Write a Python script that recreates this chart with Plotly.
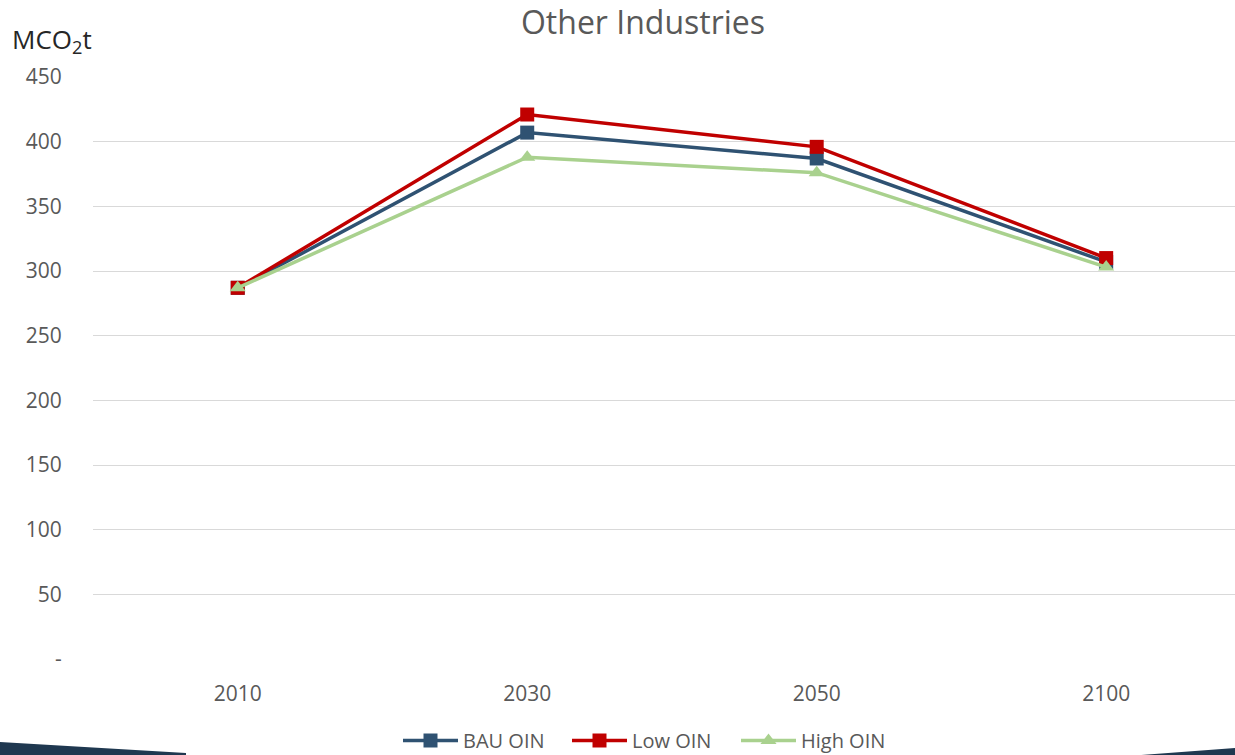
import plotly.graph_objects as go

# Emissions by scenario (MCO2t)
years = ["2010", "2030", "2050", "2100"]
bau_oin = [287, 407, 387, 307]
low_oin = [287, 421, 396, 310]
high_oin = [287, 388, 376, 303]

y_ticks = [0, 50, 100, 150, 200, 250, 300, 350, 400, 450]
y_tick_text = ["-", "50", "100", "150", "200", "250", "300", "350", "400", "450"]

W, H = 1235, 755
ML, MR, MT, MB = 93, 0, 77, 96
PW, PH = W - ML - MR, H - MT - MB

def px_to_paper(px, py):
    return (px - ML) / PW, (H - MB - py) / PH

TEXT = "#595959"
FONT = "Open Sans, Segoe UI, sans-serif"

fig = go.Figure()
series = [
    ("BAU OIN", bau_oin, "#2F5272", "square"),
    ("Low OIN", low_oin, "#C00000", "square"),
    ("High OIN", high_oin, "#A9D18E", "triangle-up"),
]
for name, vals, color, sym in series:
    fig.add_trace(go.Scatter(
        x=years, y=vals, name=name, mode="lines+markers",
        line=dict(color=color, width=3.5),
        marker=dict(symbol=sym, size=14, color=color),
    ))

# decorative navy wedges along the bottom edge
def wedge(points):
    pts = [px_to_paper(x, y) for x, y in points]
    d = "M " + " L ".join(f"{x:.5f},{y:.5f}" for x, y in pts) + " Z"
    return dict(type="path", path=d, xref="paper", yref="paper",
                fillcolor="#1F3850", line=dict(width=0), layer="above")

fig.update_layout(
    width=W, height=H,
    margin=dict(l=ML, r=MR, t=MT, b=MB, autoexpand=False),
    paper_bgcolor="white", plot_bgcolor="white",
    font=dict(family=FONT, color=TEXT, size=20),
    title=dict(text="Other Industries", x=643 / W, xref="container", xanchor="center",
               y=1 - 23 / H, yref="container", yanchor="middle",
               font=dict(size=32, color=TEXT, family=FONT)),
    showlegend=True,
    legend=dict(orientation="h", x=px_to_paper(398, 0)[0], xanchor="left",
                y=px_to_paper(0, 760)[1], yanchor="bottom",
                font=dict(size=20, color=TEXT), itemwidth=55,
                entrywidth=99, entrywidthmode="pixels",
                traceorder="normal", bgcolor="rgba(0,0,0,0)"),
    xaxis=dict(type="category", range=[-0.5, 3.445], showgrid=False,
               showline=False, zeroline=False,
               ticks="outside", ticklen=16, tickcolor="rgba(0,0,0,0)",
               tickfont=dict(size=21, color=TEXT)),
    yaxis=dict(range=[0, 450], tickvals=y_ticks, ticktext=y_tick_text,
               showgrid=True, gridcolor="#D9D9D9", gridwidth=1.2,
               zeroline=False, showline=False,
               ticks="outside", ticklen=26, tickcolor="rgba(0,0,0,0)",
               tickfont=dict(size=21, color=TEXT)),
    shapes=[
        wedge([(0, 742), (186, 753), (186, 756), (0, 756)]),
        wedge([(1128, 756), (1235, 748), (1235, 756)]),
    ],
    annotations=[dict(text="MCO<sub>2</sub>t", xref="paper", yref="paper",
                      x=px_to_paper(10, 0)[0], y=px_to_paper(0, 40)[1],
                      xanchor="left", yanchor="middle", showarrow=False,
                      font=dict(size=26, color="#262626", family=FONT))],
)

fig.write_html("out.html")
